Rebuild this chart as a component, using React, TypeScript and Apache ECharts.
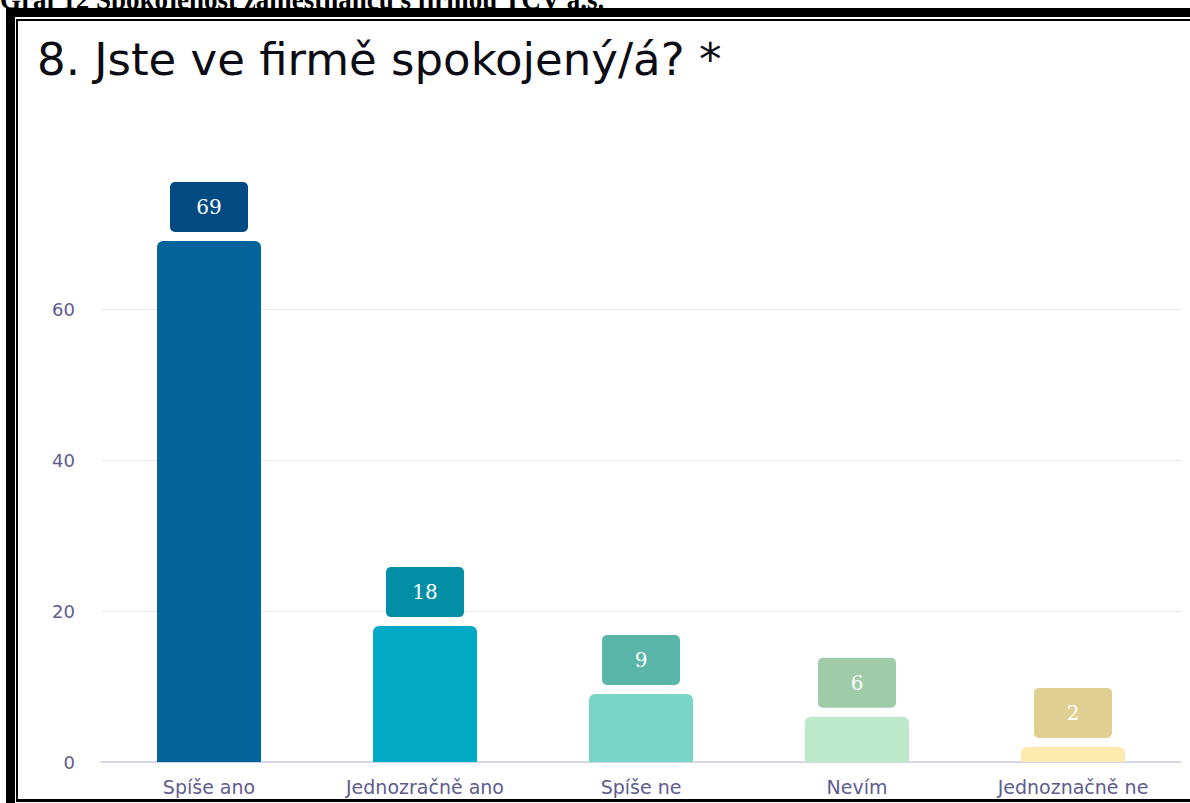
import React, { useEffect, useRef } from "react";
import * as echarts from "echarts";

const categories = ["Spíše ano", "Jednozračně ano", "Spíše ne", "Nevím", "Jednoznačně ne"];
const values = [69, 18, 9, 6, 2];
const barColors = ["#03649c", "#00aac4", "#78d5c8", "#bce9c9", "#fdeaae"];
const labelColors = ["#024b82", "#028fa6", "#5ab5a9", "#a0cba9", "#e0cf92"];
const yTicks = [0, 20, 40, 60, 80];
const titleText = "8. Jste ve firmě spokojený/á? *";
const captionText = "Graf 12 Spokojenost zaměstnanců s firmou TCV a.s.";

export default function App() {
  const ref = useRef<HTMLDivElement>(null);
  useEffect(() => {
    if (!ref.current) return;
    const chart = echarts.init(ref.current, undefined, { renderer: "svg" });
    chart.setOption({
      animation: false,
      backgroundColor: "#ffffff",
      grid: { left: 101, right: 9, top: 158, bottom: 41, containLabel: false },
      xAxis: {
        type: "category",
        data: categories,
        axisLine: { lineStyle: { color: "#c9cfe8", width: 1.5 } },
        axisTick: { show: false },
        axisLabel: { color: "#5e5c8e", fontSize: 19, fontFamily: "DejaVu Sans", margin: 15 },
      },
      yAxis: {
        type: "value",
        min: yTicks[0],
        max: yTicks[yTicks.length - 1],
        interval: 20,
        axisLine: { show: false },
        axisTick: { show: false },
        axisLabel: { color: "#5e5c8e", fontSize: 18, fontFamily: "DejaVu Sans", margin: 26, showMaxLabel: false },
        splitLine: { showMaxLine: false, lineStyle: { color: "#e6e8ef", width: 1 } },
      },
      series: [
        {
          type: "bar",
          barWidth: 104,
          data: values.map((v, i) => ({
            value: v,
            itemStyle: { color: barColors[i], borderRadius: [6, 6, 0, 0] },
            label: { backgroundColor: labelColors[i] },
          })),
          label: {
            show: true,
            position: "top",
            distance: 9,
            color: "#ffffff",
            fontFamily: "DejaVu Serif",
            fontSize: 20,
            width: 78,
            height: 50,
            lineHeight: 50,
            align: "center",
            borderRadius: 5,
          },
        },
      ],
      graphic: [
        { type: "text", left: 0, top: -14, style: { text: captionText, font: "bold 27px 'Liberation Serif'", fill: "#000" } },
        { type: "text", left: 37, top: 37, style: { text: titleText, font: "45px 'DejaVu Sans'", fill: "#0c0c14" } },
        { type: "rect", shape: { x: 6, y: 8, width: 9, height: 795 }, style: { fill: "#000" } },
        { type: "rect", shape: { x: 6, y: 8, width: 1184, height: 9 }, style: { fill: "#000" } },
        { type: "rect", shape: { x: 16, y: 19, width: 2, height: 782 }, style: { fill: "#000" } },
        { type: "rect", shape: { x: 16, y: 19, width: 1174, height: 2 }, style: { fill: "#000" } },
        { type: "rect", shape: { x: 16, y: 799, width: 1174, height: 3 }, style: { fill: "#000" } },
      ],
    });
    return () => chart.dispose();
  }, []);
  return <div ref={ref} style={{ position: "absolute", left: 0, top: 0, width: 1190, height: 803 }} />;
}
